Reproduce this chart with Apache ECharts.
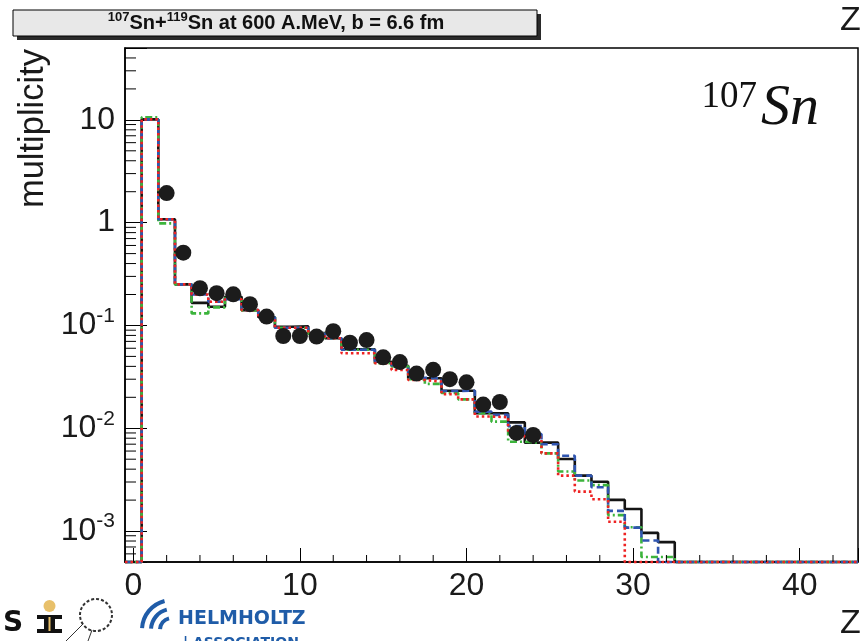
<!DOCTYPE html>
<html><head><meta charset="utf-8">
<script src="https://cdn.jsdelivr.net/npm/echarts@6/dist/echarts.min.js"></script>
<style>html,body{margin:0;padding:0;background:#fff}#c{width:860px;height:641px}</style>
</head><body><div id="c"></div>
<script>
// ---- data ----
const zBins = [0,1,2,3,4,5,6,7,8,9,10,11,12,13,14,15,16,17,18,19,20,21,22,23,24,25,26,27,28,29,30,31,32,33,34,35,36,37,38,39,40,41,42,43];
const modelBlack = [0,10.1,1.08,0.251,0.166,0.152,0.19,0.141,0.12,0.097,0.098,0.0845,0.075,0.0586,0.0586,0.0444,0.0406,0.0306,0.0306,0.0232,0.0232,0.014,0.014,0.0114,0.00724,0.00724,0.00502,0.00346,0.00302,0.00201,0.00164,0.00096,0.00078,0,0,0,0,0,0,0,0,0,0,0];
const modelBlue  = [0,10.1,1.08,0.251,0.20,0.17,0.18,0.141,0.12,0.095,0.095,0.083,0.075,0.058,0.058,0.045,0.041,0.031,0.0306,0.023,0.0232,0.0145,0.0135,0.0105,0.0088,0.007,0.0054,0.00346,0.00267,0.00157,0.00108,0.00081,0,0,0,0,0,0,0,0,0,0,0,0];
const modelGreen = [0,10.6,0.985,0.251,0.131,0.15,0.185,0.14,0.12,0.095,0.095,0.083,0.075,0.058,0.058,0.0429,0.040,0.030,0.027,0.022,0.0191,0.014,0.0116,0.0074,0.0072,0.0057,0.0038,0.0031,0.0028,0.00143,0.00109,0.00056,0.00056,0,0,0,0,0,0,0,0,0,0,0];
const modelRed   = [0,10.1,1.08,0.251,0.20,0.17,0.18,0.141,0.12,0.095,0.095,0.083,0.075,0.0536,0.0536,0.043,0.0369,0.0295,0.0284,0.0215,0.0191,0.013,0.0128,0.0088,0.0082,0.0057,0.00346,0.00242,0.00204,0.00123,0,0,0,0,0,0,0,0,0,0,0,0,0,0];
const dataZ = [2,3,4,5,6,7,8,9,10,11,12,13,14,15,16,17,18,19,20,21,22,23,24];
const dataMult = [1.94,0.51,0.23,0.206,0.201,0.161,0.122,0.079,0.079,0.078,0.088,0.068,0.072,0.049,0.044,0.034,0.037,0.030,0.028,0.017,0.018,0.009,0.0086];
const xMajorLabels = [0,10,20,30,40];
const xMinorTicks = [2,4,6,8,12,14,16,18,22,24,26,28,32,34,36,38,42];
const yMinorTicks = [6e-4,7e-4,8e-4,9e-4,2e-3,3e-3,4e-3,5e-3,6e-3,7e-3,8e-3,9e-3,0.02,0.03,0.04,0.05,0.06,0.07,0.08,0.09,0.2,0.3,0.4,0.5,0.6,0.7,0.8,0.9,2,3,4,5,6,7,8,9,20,30,40];
const X_MIN = -0.5, X_MAX = 43.5, Y_MIN = 5e-4, Y_MAX = 50;

// ---- build ----
function stepPoints(vals){
  const pts = [];
  vals.forEach((v,i)=>{ const y = v > 0 ? v : Y_MIN; pts.push([zBins[i]-0.5, y],[zBins[i]+0.5, y]); });
  return pts;
}
const FONT = '"Liberation Sans", Arial, Helvetica, sans-serif';
function histSeries(name, vals, color, type){
  return {name, type:'line', data: stepPoints(vals), symbol:'none', showSymbol:false, clip:false, animation:false,
    lineStyle:{color, width:2.6, type, cap:'butt'}};
}
const chart = echarts.init(document.getElementById('c'), null, {renderer:'canvas'});
chart.setOption({
  animation:false,
  backgroundColor:'#fff',
  grid:{left:125, right:2, top:48, bottom:79, show:true, borderColor:'#000', borderWidth:1.5, outerBoundsMode:'none'},
  xAxis:{type:'value', min:X_MIN, max:X_MAX, splitLine:{show:false},
    axisLine:{onZero:false, lineStyle:{color:'#000', width:1.5}},
    axisTick:{inside:true, length:14, lineStyle:{color:'#000', width:1}},
    minorTick:{show:false},
    axisLabel:{margin:8, fontSize:32, fontFamily:FONT, color:'#1a1a1a', showMinLabel:true, showMaxLabel:true,
      formatter:v=> xMajorLabels.indexOf(Math.round(v*1000)/1000) >= 0 ? String(Math.round(v)) : ''}},
  yAxis:{type:'log', logBase:10, min:Y_MIN, max:Y_MAX, splitNumber:5, splitLine:{show:false},
    axisLine:{show:true, onZero:false, lineStyle:{color:'#000', width:1.5}},
    axisTick:{show:true, inside:true, length:22, lineStyle:{color:'#000', width:1}},
    minorTick:{show:false},
    axisLabel:{margin:10, color:'#1a1a1a', showMinLabel:true, showMaxLabel:true,
      formatter:v=>{ const l = Math.log10(v); const r = Math.round(l);
        if (Math.abs(l-r) > 1e-6) return '';
        if (r === 1) return '{b|10}'; if (r === 0) return '{b|1}';
        return '{b|10}{s|' + r + '}'; },
      rich:{ b:{fontSize:32, fontFamily:FONT, color:'#1a1a1a', lineHeight:40},
             s:{fontSize:21, fontFamily:FONT, color:'#1a1a1a', lineHeight:16, verticalAlign:'top'} }}},
  series:[
    histSeries('model 1', modelBlack, '#141414', 'solid'),
    histSeries('model 2', modelGreen, '#3cb43c', [7,3,2,3]),
    histSeries('model 3', modelBlue, '#2f55b0', [7,4]),
    histSeries('model 4', modelRed, '#ee2222', [2.5,3]),
    {name:'data', type:'scatter', data: dataZ.map((z,i)=>[z, dataMult[i]]), symbol:'circle', symbolSize:16,
      itemStyle:{color:'#1c1c1c', opacity:1}, z:5, animation:false},
    {type:'custom', clip:false, silent:true, z:4, data: yMinorTicks.map(v=>[X_MIN, v]),
      renderItem:(p, api)=>{ const c = api.coord([api.value(0), api.value(1)]);
        return {type:'line', shape:{x1:c[0], y1:c[1], x2:c[0]+11, y2:c[1]}, style:{stroke:'#000', lineWidth:1}}; }},
    {type:'custom', clip:false, silent:true, z:4, data: xMinorTicks.map(z=>[z, Y_MIN]),
      renderItem:(p, api)=>{ const c = api.coord([api.value(0), api.value(1)]);
        return {type:'line', shape:{x1:c[0], y1:c[1], x2:c[0], y2:c[1]-7}, style:{stroke:'#000', lineWidth:1}}; }}
  ],
  graphic:[
    {type:'rect', shape:{x:17, y:14, width:524, height:26}, style:{fill:'#2a2a2a'}},
    {type:'rect', shape:{x:13, y:10, width:524, height:26}, style:{fill:'#e8e8e8', stroke:'#000', lineWidth:1}},
    {type:'text', x:276, y:23, style:{text:'{s|107}{n|Sn+}{s|119}{n|Sn at 600 A.MeV, b = 6.6 fm}', align:'center', verticalAlign:'middle',
      rich:{ n:{fontSize:20, fontWeight:'bold', fontFamily:FONT, fill:'#111', lineHeight:24},
             s:{fontSize:13, fontWeight:'bold', fontFamily:FONT, fill:'#111', lineHeight:12, verticalAlign:'top'} }}},
    {type:'text', x:840, y:21, style:{text:'Z', font:'34px ' + FONT, fill:'#1a1a1a', align:'left', verticalAlign:'middle'}},
    {type:'text', x:840, y:624, style:{text:'Z', font:'34px ' + FONT, fill:'#1a1a1a', align:'left', verticalAlign:'middle'}},
    {type:'text', x:33, y:49, rotation:Math.PI/2, style:{text:'multiplicity', font:'34.5px ' + FONT, fill:'#1a1a1a', align:'right', verticalAlign:'middle'}},
    {type:'text', x:757, y:97, style:{text:'107', font:'37px "Liberation Serif", "Times New Roman", serif', fill:'#111', align:'right', verticalAlign:'middle'}},
    {type:'text', x:761, y:109, style:{text:'Sn', font:'italic 58px "Liberation Serif", "Times New Roman", serif', fill:'#111', align:'left', verticalAlign:'middle'}},
    // logos (bottom left)
    {type:'text', x:178, y:619, style:{text:'HELMHOLTZ', font:'bold 19px "DejaVu Sans", sans-serif', fill:'#1f5ca8', align:'left', verticalAlign:'middle'}},
    {type:'text', x:183, y:636, style:{text:'| ASSOCIATION', font:'bold 14px "DejaVu Sans", sans-serif', fill:'#1f5ca8', align:'left', verticalAlign:'top'}},
    {type:'arc', shape:{cx:172, cy:630, r:12, startAngle:Math.PI*1.02, endAngle:Math.PI*1.42}, style:{stroke:'#1f5ca8', lineWidth:4, fill:null}},
    {type:'arc', shape:{cx:172, cy:630, r:21, startAngle:Math.PI*1.02, endAngle:Math.PI*1.42}, style:{stroke:'#1f5ca8', lineWidth:4, fill:null}},
    {type:'arc', shape:{cx:172, cy:630, r:30, startAngle:Math.PI*1.02, endAngle:Math.PI*1.42}, style:{stroke:'#1f5ca8', lineWidth:4, fill:null}},
    {type:'text', x:13, y:624, style:{text:'S', font:'bold 28px "DejaVu Sans", sans-serif', fill:'#111', align:'center', verticalAlign:'middle'}},
    {type:'rect', shape:{x:37, y:615, width:25, height:4}, style:{fill:'#111'}},
    {type:'rect', shape:{x:44, y:615, width:11, height:18}, style:{fill:'#111'}},
    {type:'rect', shape:{x:37, y:629, width:25, height:4}, style:{fill:'#111'}},
    {type:'rect', shape:{x:48.5, y:617, width:2, height:14}, style:{fill:'#e8c06a'}},
    {type:'circle', shape:{cx:49.5, cy:606, r:6}, style:{fill:'#e8c06a'}},
    {type:'circle', shape:{cx:96, cy:615, r:16}, style:{fill:null, stroke:'#333', lineWidth:2, lineDash:[3,2]}},
    {type:'line', shape:{x1:83, y1:624, x2:66, y2:641}, style:{stroke:'#333', lineWidth:1}},
    {type:'line', shape:{x1:92, y1:630, x2:88, y2:641}, style:{stroke:'#333', lineWidth:1}}
  ]
});
</script></body></html>
